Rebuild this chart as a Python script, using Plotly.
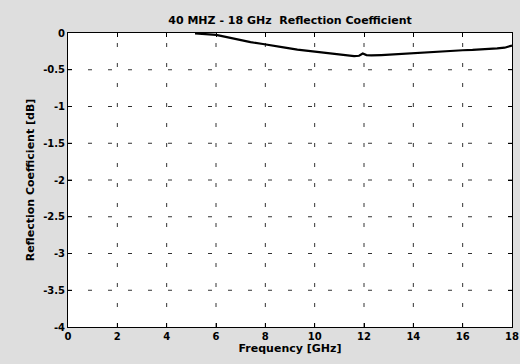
import plotly.graph_objects as go

freq_ghz = [5.15, 5.5, 6.0, 6.2, 6.6, 7.0, 7.4, 7.9, 8.3, 8.8, 9.3, 9.9, 10.4, 10.9, 11.3, 11.6, 11.8,
            11.95, 12.1, 12.3, 12.7, 13.2, 13.75, 14.3, 14.8, 15.1, 15.6, 16.0, 16.4, 16.9, 17.4, 17.7, 18.0]
refl_db = [-0.005, -0.01, -0.025, -0.04, -0.07, -0.10, -0.125, -0.15, -0.175, -0.20, -0.225, -0.25,
           -0.275, -0.295, -0.31, -0.315, -0.31, -0.28, -0.30, -0.305, -0.30, -0.29, -0.28, -0.27,
           -0.255, -0.245, -0.24, -0.235, -0.23, -0.225, -0.21, -0.2, -0.17]

x_ticks = [0, 2, 4, 6, 8, 10, 12, 14, 16, 18]
y_ticks = [0, -0.5, -1, -1.5, -2, -2.5, -3, -3.5, -4]
y_tick_labels = ["0", "-0.5", "-1", "-1.5", "-2", "-2.5", "-3", "-3.5", "-4"]

title_text = "40 MHZ - 18 GHz  Reflection Coefficient"
x_title = "Frequency [GHz]"
y_title = "Reflection Coefficient [dB]"

font_family = "DejaVu Sans, Arial, sans-serif"

fig = go.Figure()
fig.add_trace(go.Scatter(x=freq_ghz, y=refl_db, mode="lines",
                         line=dict(color="black", width=2.2), showlegend=False))

# dashed grid lines
for xv in x_ticks[1:-1]:
    fig.add_shape(type="line", x0=xv, x1=xv, y0=-4, y1=0, xref="x", yref="y",
                  line=dict(color="#333333", width=1, dash="4px,16px"), layer="below")
for yv in y_ticks[1:-1]:
    fig.add_shape(type="line", x0=0, x1=18, y0=yv, y1=yv, xref="x", yref="y",
                  line=dict(color="#333333", width=1, dash="4px,16px"), layer="below")

tick_font = dict(family=font_family, size=10, color="black", weight="bold")
label_font = dict(family=font_family, size=11, color="black", weight="bold")

fig.update_layout(
    width=520, height=364,
    margin=dict(l=68, r=8, t=33, b=37),
    paper_bgcolor="#dedede",
    plot_bgcolor="white",
    title=dict(text=title_text, xref="paper", x=0.5, xanchor="center",
               yref="container", y=1 - 20 / 364, yanchor="middle",
               font=label_font),
    xaxis=dict(range=[0, 18], tickvals=x_ticks, ticktext=[str(v) for v in x_ticks],
               showgrid=False, zeroline=False, showline=True, linecolor="black", linewidth=1,
               mirror="ticks", ticks="inside", ticklen=4, tickcolor="black",
               tickfont=tick_font, automargin=False,
               title=dict(text=x_title, standoff=2, font=label_font)),
    yaxis=dict(range=[-4, 0], tickvals=y_ticks, ticktext=y_tick_labels,
               showgrid=False, zeroline=False, showline=True, linecolor="black", linewidth=1,
               mirror="ticks", ticks="inside", ticklen=4, tickcolor="black",
               tickfont=tick_font, automargin=False,
               title=dict(text=y_title, standoff=6, font=label_font)),
)

fig.write_html("out.html", config={"displayModeBar": False},
               post_script="document.body.style.margin='0';")
